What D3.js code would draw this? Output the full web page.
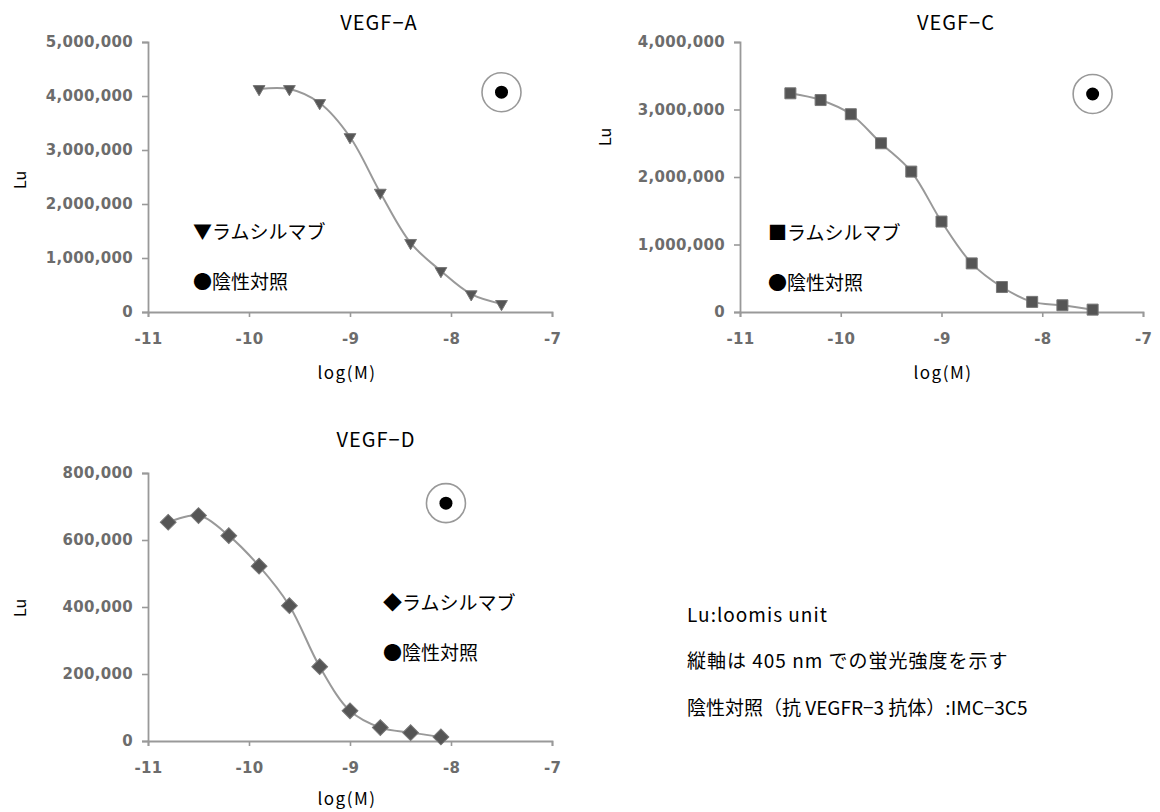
<!DOCTYPE html>
<html>
<head>
<meta charset="utf-8">
<script src="https://cdn.jsdelivr.net/npm/d3@7"></script>
<style>
  body { margin: 0; background: #fff; }
  svg { display: block; }
  .tick text { font-family: "DejaVu Sans", sans-serif; font-size: 15px; font-weight: bold; fill: #6c6c6c; letter-spacing: 0.3px; }
  .jp { font-family: "Noto Sans CJK JP", sans-serif; fill: #000; }
</style>
</head>
<body>
<svg id="fig" width="1160" height="812"></svg>
<script>
// VEGF binding curves (ramucirumab vs negative control)

// x = log(M)
var xA = [-9.9, -9.6, -9.3, -9.0, -8.7, -8.4, -8.1, -7.8, -7.5];
var yA = [4130000, 4130000, 3870000, 3240000, 2210000, 1280000, 760000, 330000, 150000];
var ctrlA = [-7.5, 4070000];

var xC = [-10.5, -10.2, -9.9, -9.6, -9.3, -9.0, -8.7, -8.4, -8.1, -7.8, -7.5];
var yC = [3240000, 3140000, 2930000, 2500000, 2080000, 1340000, 720000, 370000, 150000, 100000, 35000];
var ctrlC = [-7.5, 3230000];

var xD = [-10.8, -10.5, -10.2, -9.9, -9.6, -9.3, -9.0, -8.7, -8.4, -8.1];
var yD = [653000, 673000, 613000, 522000, 404000, 222000, 90000, 40000, 25000, 12000];
var ctrlD = [-8.05, 710000];

var xTicks = [-11, -10, -9, -8, -7];
var yTicksA = [0, 1000000, 2000000, 3000000, 4000000, 5000000];
var yTicksC = [0, 1000000, 2000000, 3000000, 4000000];
var yTicksD = [0, 200000, 400000, 600000, 800000];

var notes = ["Lu:loomis unit", "縦軸は 405 nm での蛍光強度を示す", "陰性対照（抗 VEGFR\u22123 抗体）:IMC\u22123C5"];

var svg = d3.select("#fig");

var panels = [
  {title: "VEGF-A", xs: xA, ys: yA, ctrl: ctrlA, ymax: 5000000, yticks: yTicksA, marker: "tri", legSym: "▼",
   x0: 148, x1: 552, top: 42, bottom: 312, titleX: 379, titleY: 30, luX: 20, luY: 180, labX: 347, labY: 379,
   legX: 193, legY: 232},
  {title: "VEGF-C", xs: xC, ys: yC, ctrl: ctrlC, ymax: 4000000, yticks: yTicksC, marker: "sq", legSym: "■",
   x0: 740, x1: 1143, top: 42, bottom: 312, titleX: 956, titleY: 30, luX: 605, luY: 137, labX: 943, labY: 379,
   legX: 768, legY: 233},
  {title: "VEGF-D", xs: xD, ys: yD, ctrl: ctrlD, ymax: 800000, yticks: yTicksD, marker: "dia", legSym: "◆",
   x0: 148, x1: 552, top: 473, bottom: 741, titleX: 376, titleY: 447, luX: 20, luY: 608, labX: 347, labY: 805,
   legX: 383, legY: 603}
];

var line = d3.line().curve(d3.curveCatmullRom.alpha(0.5));

panels.forEach(function(p) {
  var x = d3.scaleLinear().domain([-11, -7]).range([p.x0, p.x1]),
      y = d3.scaleLinear().domain([0, p.ymax]).range([p.bottom, p.top]);

  var g = svg.append("g");

  // axes
  var xAxis = d3.axisBottom(x).tickValues(xTicks).tickSize(5).tickPadding(16)
      .tickFormat(function(d) { return String(d).replace("\u2212", "-"); });
  var yAxis = d3.axisLeft(y).tickValues(p.yticks).tickSize(6).tickPadding(9)
      .tickFormat(d3.format(","));

  var gx = g.append("g").attr("transform", "translate(0," + p.bottom + ")").call(xAxis);
  var gy = g.append("g").attr("transform", "translate(" + p.x0 + ",0)").call(yAxis);
  [gx, gy].forEach(function(a) {
    a.select(".domain").attr("stroke", "#999").attr("stroke-width", 1.8);
    a.selectAll(".tick line").attr("stroke", "#999").attr("stroke-width", 1.6);
  });

  // titles and labels
  g.append("text").attr("class", "jp")
      .attr("x", p.titleX).attr("y", p.titleY)
      .attr("text-anchor", "middle").style("font-size", "20px").style("letter-spacing", "1px")
      .text(p.title.replace("-", "\u2212"));
  g.append("text").attr("class", "jp")
      .attr("transform", "translate(" + p.luX + "," + p.luY + ") rotate(-90)")
      .attr("text-anchor", "middle").attr("dy", "0.35em").style("font-size", "16px")
      .text("Lu");
  g.append("text").attr("class", "jp")
      .attr("x", p.labX).attr("y", p.labY)
      .attr("text-anchor", "middle").style("font-size", "17px").style("letter-spacing", "1.5px")
      .text("log(M)");

  // curve
  var pts = p.xs.map(function(v, i) { return [x(v), y(p.ys[i])]; });
  g.append("path").attr("d", line(pts))
      .attr("fill", "none").attr("stroke", "#999").attr("stroke-width", 2);

  // markers
  var sym;
  if (p.marker == "tri") sym = d3.symbol(d3.symbolTriangle, 60);
  else if (p.marker == "sq") sym = d3.symbol(d3.symbolSquare, 121);
  else sym = d3.symbol(d3.symbolSquare, 125);

  g.selectAll(".pt").data(pts).enter().append("path")
      .attr("class", "pt")
      .attr("d", sym)
      .attr("transform", function(d) {
        var r = p.marker == "tri" ? " rotate(180)" : (p.marker == "dia" ? " rotate(45)" : "");
        return "translate(" + d[0] + "," + d[1] + ")" + r;
      })
      .attr("fill", "#555").attr("stroke", "#777").attr("stroke-width", 1);

  // negative control
  var cx = x(p.ctrl[0]), cy = y(p.ctrl[1]);
  g.append("circle").attr("cx", cx).attr("cy", cy).attr("r", 19.5)
      .attr("fill", "none").attr("stroke", "#999").attr("stroke-width", 1.6);
  g.append("circle").attr("cx", cx).attr("cy", cy).attr("r", 6.5).attr("fill", "#000");

  // legend
  g.append("text").attr("class", "jp")
      .attr("x", p.legX).attr("y", p.legY).attr("dy", "0.35em")
      .style("font-size", "19px").text(p.legSym + "ラムシルマブ");
  g.append("text").attr("class", "jp")
      .attr("x", p.legX).attr("y", p.legY + 50).attr("dy", "0.35em")
      .style("font-size", "19px").text("●陰性対照");
});

// footnotes
svg.append("g").selectAll("text").data(notes).enter().append("text")
    .attr("class", "jp")
    .attr("x", 687)
    .attr("y", function(d, i) { return 615 + i * 46.5; })
    .attr("dy", "0.35em")
    .style("font-size", "19px")
    .style("letter-spacing", function(d, i) { return i < 2 ? "1px" : "0px"; })
    .text(function(d) { return d; });
</script>
</body>
</html>
